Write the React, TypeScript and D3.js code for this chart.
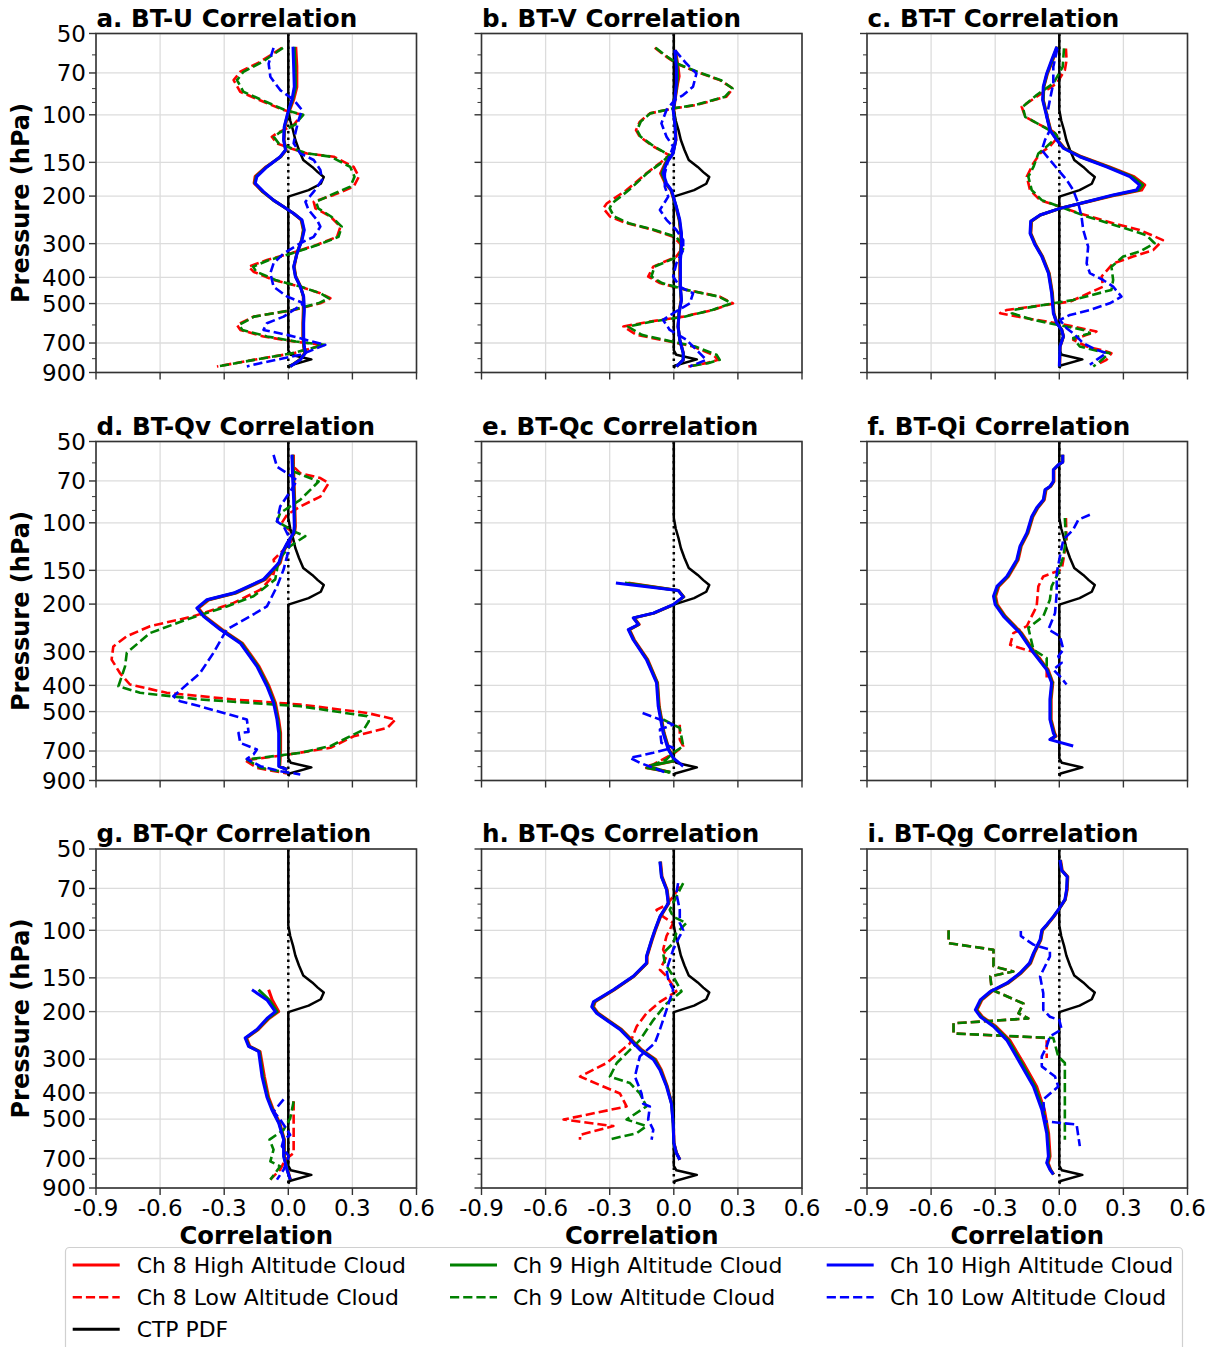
import React from 'react';
import * as d3 from 'd3';

type Pt = [number, number]; // [pressure (hPa), correlation]

// ---------- axis ticks ----------
const xTickValues = [-0.9, -0.6, -0.3, 0, 0.3, 0.6];
const xTickLabels = ['-0.9', '-0.6', '-0.3', '0.0', '0.3', '0.6'];
const pTicks = [50, 70, 100, 150, 200, 300, 400, 500, 700, 900];
const pMinorTicks = [60, 80, 90, 600, 800];

// ---------- CTP PDF (same in every panel) ----------
const ctpPdf: Pt[] = [[50, 0], [96, 0], [105, 0.009], [114, 0.022], [124, 0.033], [135, 0.05], [147, 0.07], [156, 0.112], [163, 0.138], [170, 0.166], [180, 0.152], [190, 0.095], [201, 0], [745, 0], [774, 0.012], [805, 0.108], [848, 0.006], [868, 0]];
const zeroRef: Pt[] = [[50, 0], [870, 0]];

// ---------- a. BT-U ----------
const aH8: Pt[] = [[56, 0.035], [66, 0.04], [79, 0.04], [88, 0.025], [99, 0.0], [111, -0.016], [124, -0.02], [135, -0.01], [143, -0.035], [156, -0.105], [169, -0.155], [179, -0.16], [193, -0.12], [207, -0.07], [219, -0.022], [232, 0.025], [245, 0.06], [267, 0.07], [291, 0.062], [326, 0.04], [365, 0.028], [397, 0.035], [433, 0.058], [471, 0.07], [528, 0.07], [591, 0.068], [662, 0.068], [721, 0.072], [763, 0.076], [808, 0.052], [855, 0.008]];
const aL8: Pt[] = [[56.5, -0.03], [63.6, -0.131], [69.3, -0.225], [74.4, -0.256], [82.2, -0.225], [89.5, -0.116], [96, -0.022], [100, 0.064], [109, 0.025], [117, -0.053], [120.6, -0.077], [127.6, -0.053], [133, 0.009], [139, 0.088], [143, 0.213], [156, 0.306], [169.5, 0.33], [184.5, 0.306], [198, 0.213], [210, 0.119], [222, 0.127], [238, 0.197], [259.5, 0.244], [283, 0.228], [303, 0.134], [326, 0.009], [345, -0.1], [365, -0.186], [381, -0.163], [409, -0.069], [433, 0.056], [458, 0.15], [478, 0.197], [499, 0.15], [528, 0.025], [559, -0.163], [600, -0.24], [626, -0.225], [662, -0.116], [691, 0.025], [711, 0.166], [763, 0.025], [808, -0.163], [855, -0.334]];
const aH9: Pt[] = [[56, 0.028], [66, 0.032], [79, 0.034], [88, 0.02], [99, -0.002], [111, -0.018], [124, -0.021], [135, -0.012], [143, -0.036], [156, -0.102], [169, -0.15], [179, -0.157], [193, -0.118], [207, -0.07], [219, -0.022], [232, 0.025], [245, 0.062], [267, 0.072], [291, 0.063], [326, 0.04], [365, 0.026], [397, 0.034], [433, 0.057], [471, 0.071], [528, 0.073], [591, 0.07], [662, 0.07], [721, 0.073], [763, 0.078], [808, 0.054], [855, 0.008]];
const aL9: Pt[] = [[56.5, -0.025], [63.6, -0.12], [69.3, -0.21], [74.4, -0.24], [82.2, -0.21], [89.5, -0.105], [96, -0.015], [100, 0.07], [109, 0.03], [117, -0.045], [120.6, -0.068], [127.6, -0.045], [133, 0.015], [139, 0.09], [143, 0.2], [156, 0.29], [169.5, 0.31], [184.5, 0.29], [198, 0.2], [210, 0.13], [222, 0.14], [238, 0.2], [259.5, 0.25], [283, 0.235], [303, 0.14], [326, 0.015], [345, -0.09], [365, -0.165], [381, -0.15], [409, -0.06], [433, 0.06], [458, 0.15], [478, 0.19], [499, 0.14], [528, 0.02], [559, -0.16], [600, -0.23], [626, -0.215], [662, -0.1], [691, 0.035], [711, 0.17], [763, 0.02], [808, -0.16], [855, -0.33]];
const aH10: Pt[] = [[56, 0.022], [66.4, 0.025], [78.7, 0.028], [88, 0.017], [98.8, -0.003], [110.7, -0.019], [124, -0.022], [135, -0.013], [143, -0.038], [156, -0.1], [169.5, -0.147], [179.4, -0.155], [192.6, -0.116], [207, -0.069], [219, -0.022], [232, 0.025], [245, 0.064], [267, 0.075], [291, 0.064], [326, 0.041], [365, 0.025], [397, 0.033], [433, 0.056], [471, 0.072], [528, 0.075], [591, 0.072], [662, 0.072], [721, 0.075], [763, 0.08], [808, 0.056], [855, 0.009]];
const aL10: Pt[] = [[56.5, -0.069], [64.6, -0.092], [72.3, -0.084], [81, -0.038], [88, 0.025], [96, 0.064], [104.6, 0.048], [117, 0.033], [127.6, 0.025], [139, 0.056], [147, 0.119], [160, 0.15], [174, 0.158], [192.6, 0.119], [210, 0.08], [225, 0.095], [245, 0.134], [259.5, 0.15], [283, 0.119], [299, 0.056], [326, -0.022], [355, -0.069], [386, -0.084], [433, -0.069], [471, -0.006], [499, 0.072], [559, -0.022], [591, -0.1], [626, -0.116], [653, -0.006], [711, 0.173], [774, 0.056], [831, -0.131], [855, -0.194]];

// ---------- b. BT-V ----------
const bH8: Pt[] = [[57.6, 0.008], [66.4, 0.02], [72, 0.025], [76.5, 0.018], [88, 0.006], [96, 0], [110.7, 0.008], [124, 0.01], [139, -0.005], [151, -0.04], [164.7, -0.062], [179.4, -0.04], [190, -0.014], [219, 0.01], [245, 0.025], [275, 0.033], [308, 0.033], [345, 0.028], [386, 0.028], [433, 0.03], [485, 0.034], [543, 0.024], [608, 0.02], [681, 0.028], [763, 0.045], [808, 0.045], [855, 0.015]];
const bL8: Pt[] = [[56.5, -0.089], [61, -0.034], [64.6, 0.012], [69.3, 0.106], [74.4, 0.215], [79.9, 0.277], [85.7, 0.246], [92, 0.106], [94.7, 0], [98.8, -0.112], [106, -0.159], [114, -0.177], [120.6, -0.159], [131, -0.096], [141, -0.022], [151, -0.065], [164.7, -0.128], [190, -0.221], [213, -0.314], [222, -0.33], [238, -0.299], [252, -0.221], [267, -0.096], [283, -0.003], [308, 0.044], [335, 0.012], [365, -0.096], [397, -0.12], [420, -0.065], [445, 0.059], [471, 0.215], [499, 0.277], [528, 0.184], [559, 0.044], [583, -0.112], [608, -0.236], [653, -0.174], [691, -0.019], [721, 0.09], [774, 0.184], [808, 0.207], [831, 0.152], [855, 0.067]];
const bH9: Pt[] = [[57.6, 0.006], [66.4, 0.016], [72, 0.018], [76.5, 0.015], [88, 0.005], [96, -0.002], [110.7, 0.007], [124, 0.009], [139, -0.004], [151, -0.037], [164.7, -0.056], [179.4, -0.037], [190, -0.012], [219, 0.011], [245, 0.026], [275, 0.034], [308, 0.034], [345, 0.03], [386, 0.03], [433, 0.03], [485, 0.035], [543, 0.024], [608, 0.02], [681, 0.028], [763, 0.044], [808, 0.044], [855, 0.013]];
const bL9: Pt[] = [[56.5, -0.085], [61, -0.03], [64.6, 0.015], [69.3, 0.11], [74.4, 0.22], [79.9, 0.275], [85.7, 0.24], [92, 0.1], [94.7, -0.005], [98.8, -0.11], [106, -0.155], [114, -0.172], [120.6, -0.155], [131, -0.092], [141, -0.02], [151, -0.06], [164.7, -0.125], [190, -0.21], [213, -0.29], [222, -0.3], [238, -0.28], [252, -0.21], [267, -0.09], [283, 0.01], [308, 0.05], [335, 0.02], [365, -0.09], [397, -0.105], [420, -0.055], [445, 0.06], [471, 0.21], [499, 0.27], [528, 0.18], [559, 0.05], [583, -0.1], [608, -0.215], [653, -0.15], [691, -0.01], [721, 0.1], [774, 0.2], [808, 0.215], [831, 0.16], [855, 0.07]];
const bH10: Pt[] = [[57.6, 0.005], [66.4, 0.012], [76.5, 0.012], [88, 0.005], [96, -0.003], [110.7, 0.006], [124, 0.009], [139, -0.003], [151, -0.034], [164.7, -0.05], [179.4, -0.034], [190, -0.011], [219, 0.012], [245, 0.028], [275, 0.036], [308, 0.036], [345, 0.031], [386, 0.031], [433, 0.031], [485, 0.036], [543, 0.025], [608, 0.02], [681, 0.028], [763, 0.044], [808, 0.044], [855, 0.012]];
const bL10: Pt[] = [[57.6, 0.005], [64.6, 0.059], [70.3, 0.106], [78.7, 0.09], [84.5, 0.044], [88, 0.005], [96, -0.034], [107.6, -0.058], [120.6, -0.034], [131, -0.003], [147, -0.026], [164.7, -0.042], [184.5, -0.042], [201, -0.026], [225, -0.065], [245, -0.034], [267, 0.012], [291, 0.044], [317, 0.044], [355, 0.012], [397, -0.003], [433, 0.028], [458, 0.09], [499, 0.075], [543, -0.003], [575, -0.05], [626, -0.019], [681, 0.059], [763, 0.121], [808, 0.152], [855, 0.075]];

// ---------- c. BT-T ----------
const cH8: Pt[] = [[56, -0.008], [62.7, -0.03], [70.3, -0.055], [78.7, -0.072], [88, -0.075], [101.7, -0.056], [114, -0.04], [124, -0.008], [133, 0.025], [143, 0.105], [156, 0.235], [169.5, 0.35], [182, 0.4], [190, 0.385], [198, 0.27], [210, 0.135], [222, 0.005], [235, -0.088], [248, -0.13], [275, -0.133], [303, -0.11], [335, -0.078], [386, -0.047], [458, -0.032], [543, -0.025], [591, -0.01], [626, 0.012], [662, 0.02], [721, 0.004], [855, 0.002]];
const cL8: Pt[] = [[56.8, 0.031], [62.7, 0.034], [68.3, 0.026], [76.5, -0.012], [85.7, -0.106], [93.4, -0.176], [101.7, -0.16], [109, -0.09], [115.5, -0.028], [120.6, -0.005], [131, -0.044], [139, -0.09], [151, -0.121], [169.5, -0.152], [190, -0.137], [207, -0.09], [219, 0.003], [232, 0.096], [252, 0.252], [267, 0.376], [291, 0.485], [317, 0.439], [335, 0.345], [355, 0.252], [397, 0.198], [433, 0.205], [492, 0.05], [528, -0.246], [543, -0.277], [567, -0.152], [591, -0.012], [608, 0.065], [635, 0.174], [653, 0.128], [681, 0.065], [721, 0.128], [752, 0.221], [763, 0.244], [808, 0.221], [843, 0.174]];
const cH9: Pt[] = [[56, -0.01], [62.7, -0.033], [70.3, -0.057], [78.7, -0.073], [88, -0.076], [101.7, -0.057], [114, -0.042], [124, -0.01], [133, 0.022], [143, 0.1], [156, 0.228], [169.5, 0.34], [182, 0.39], [190, 0.372], [198, 0.26], [210, 0.13], [222, 0.004], [235, -0.089], [248, -0.132], [275, -0.135], [303, -0.112], [335, -0.08], [386, -0.049], [458, -0.034], [543, -0.026], [591, -0.011], [626, 0.011], [662, 0.019], [721, 0.003], [855, 0.001]];
const cL9: Pt[] = [[56.8, 0.022], [66.4, 0.016], [76.5, -0.028], [84.5, -0.106], [93.4, -0.171], [101.7, -0.16], [109, -0.09], [117, -0.02], [120.6, -0.009], [131, -0.059], [139, -0.098], [156, -0.121], [169.5, -0.145], [190, -0.129], [207, -0.082], [219, 0.003], [238, 0.128], [259.5, 0.283], [279, 0.407], [299, 0.446], [321, 0.376], [335, 0.299], [365, 0.244], [409, 0.252], [445, 0.244], [485, 0.065], [528, -0.215], [543, -0.222], [575, -0.121], [600, -0.005], [626, 0.112], [644, 0.143], [671, 0.065], [721, 0.096], [752, 0.19], [763, 0.236], [819, 0.19], [855, 0.159]];
const cH10: Pt[] = [[56, -0.012], [62.7, -0.036], [70.3, -0.059], [78.7, -0.075], [88, -0.078], [101.7, -0.059], [114, -0.044], [124, -0.012], [133, 0.019], [143, 0.096], [156, 0.221], [169.5, 0.33], [182, 0.376], [190, 0.361], [198, 0.252], [210, 0.128], [222, 0.003], [235, -0.09], [248, -0.134], [275, -0.137], [303, -0.114], [335, -0.082], [386, -0.051], [458, -0.036], [543, -0.028], [591, -0.012], [626, 0.011], [662, 0.019], [721, 0.003], [855, 0]];
const cL10: Pt[] = [[56.8, -0.009], [66.4, -0.028], [76.5, -0.028], [88, -0.044], [101.7, -0.059], [114, -0.044], [124, -0.067], [135, -0.082], [147, -0.044], [160, -0.005], [174, 0.034], [190, 0.065], [213, 0.089], [238, 0.104], [267, 0.112], [308, 0.135], [355, 0.128], [386, 0.143], [409, 0.205], [433, 0.252], [471, 0.291], [499, 0.236], [528, 0.143], [551, 0.05], [575, 0.003], [617, 0.034], [644, 0.065], [701, 0.112], [742, 0.174], [763, 0.221], [808, 0.174], [843, 0.143]];

// ---------- d. BT-Qv ----------
const dH8: Pt[] = [[56, 0.022], [67.4, 0.026], [82.2, 0.03], [103, 0.033], [109, 0.03], [119, -0.002], [129.5, -0.025], [141, -0.038], [162, -0.106], [182, -0.245], [192.6, -0.37], [207, -0.42], [222, -0.39], [248.5, -0.31], [279, -0.215], [340, -0.137], [403, -0.09], [465, -0.06], [535, -0.045], [600, -0.036], [691, -0.036], [752, -0.038], [797, -0.04], [820, -0.004]];
const dL8: Pt[] = [[56, 0.025], [62, 0.025], [65.5, 0.056], [68.3, 0.15], [71.3, 0.189], [80, 0.15], [87, 0.056], [93.4, -0.006], [100, -0.03], [104.6, -0.006], [109, 0.025], [119, 0.009], [129.5, -0.038], [137, -0.069], [145, -0.061], [158, -0.072], [177, -0.131], [198, -0.256], [222, -0.444], [241.5, -0.647], [263, -0.756], [287, -0.819], [321, -0.827], [360, -0.788], [397, -0.741], [426, -0.569], [451, -0.256], [471, 0.056], [506, 0.369], [535, 0.502], [575, 0.463], [617, 0.306], [681, 0.197], [721, 0.002], [758, -0.202], [808, -0.147], [848, -0.006]];
const dH9: Pt[] = [[56, 0.02], [67.4, 0.023], [82.2, 0.028], [103, 0.03], [109, 0.028], [119, -0.004], [129.5, -0.028], [141, -0.042], [162, -0.112], [182, -0.25], [192.6, -0.376], [207, -0.425], [222, -0.394], [248.5, -0.315], [279, -0.22], [340, -0.142], [403, -0.095], [465, -0.065], [535, -0.049], [600, -0.04], [691, -0.04], [752, -0.041], [797, -0.042], [820, -0.005]];
const dL9: Pt[] = [[56.8, 0.017], [64.6, 0.025], [70.3, 0.142], [75.5, 0.103], [82.2, 0.056], [92, -0.038], [98.8, -0.053], [107.6, 0.025], [112, 0.08], [122, 0.009], [137, -0.045], [162, -0.061], [187, -0.163], [204, -0.288], [228, -0.475], [256, -0.647], [303, -0.756], [340, -0.764], [403, -0.795], [426, -0.694], [451, -0.413], [478, 0.056], [520, 0.369], [543, 0.377], [583, 0.353], [671, 0.197], [711, 0.056], [752, -0.194], [808, -0.131], [843, 0.002]];
const dH10: Pt[] = [[56, 0.017], [67.4, 0.02], [82.2, 0.025], [103, 0.028], [109, 0.025], [119, -0.006], [129.5, -0.03], [141, -0.045], [162, -0.116], [182, -0.256], [192.6, -0.381], [207, -0.428], [222, -0.397], [248.5, -0.319], [279, -0.225], [340, -0.147], [403, -0.1], [465, -0.069], [535, -0.053], [600, -0.045], [691, -0.045], [752, -0.045], [797, -0.045], [820, -0.006]];
const dL10: Pt[] = [[56, -0.069], [62, -0.053], [65.5, -0.006], [69.7, 0.041], [76.5, 0.009], [87, -0.038], [98.8, -0.053], [103, -0.022], [115.5, 0.009], [133, -0.006], [149, -0.022], [172, -0.053], [204, -0.1], [222, -0.178], [248.5, -0.288], [303, -0.35], [360, -0.413], [439, -0.538], [458, -0.506], [478, -0.413], [535, -0.194], [595, -0.186], [600, -0.233], [653, -0.225], [691, -0.147], [721, -0.163], [748, -0.194], [797, -0.131], [831, -0.038], [855, 0.056]];

// ---------- e. BT-Qc ----------
const eH8: Pt[] = [[167, -0.213], [178, 0.022], [188, 0.047], [201, 0.0], [216, -0.092], [225, -0.185], [238, -0.162], [248.5, -0.207], [271, -0.185], [321, -0.122], [391, -0.076], [478, -0.068], [600, -0.045], [691, -0.022], [742, 0.0], [763, 0.0], [790, -0.096], [808, -0.128], [838, -0.019]];
const eL8: Pt[] = [[559, 0.028], [635, 0.028], [671, 0.044], [711, 0.005], [785, -0.096], [797, -0.128], [843, -0.003]];
const eH9: Pt[] = [[167, -0.229], [178, 0.021], [188, 0.046], [201, -0.001], [216, -0.094], [225, -0.188], [238, -0.164], [248.5, -0.21], [271, -0.188], [321, -0.125], [391, -0.078], [478, -0.07], [600, -0.047], [691, -0.024], [742, -0.002], [763, -0.004], [790, -0.1], [808, -0.125], [838, -0.015]];
const eL9: Pt[] = [[535, -0.05], [575, 0.028], [671, 0.044], [711, -0.003], [752, -0.034], [797, -0.112], [843, -0.019]];
const eH10: Pt[] = [[167, -0.271], [178, 0.02], [188, 0.044], [201, -0.003], [216, -0.096], [225, -0.19], [238, -0.166], [248.5, -0.213], [271, -0.19], [321, -0.128], [391, -0.081], [478, -0.073], [600, -0.05], [691, -0.026], [742, -0.003], [797, 0.044]];
const eL10: Pt[] = [[506, -0.146], [535, -0.065], [559, -0.003], [583, -0.065], [653, -0.058], [681, -0.003], [711, -0.096], [742, -0.205], [774, -0.159], [843, -0.034]];

// ---------- f. BT-Qi ----------
const fH8: Pt[] = [[56, 0.016], [59.6, 0.016], [61, -0.003], [63.6, -0.025], [70.3, -0.025], [73.3, -0.04], [75.5, -0.062], [82.2, -0.07], [88, -0.1], [94.7, -0.123], [109, -0.146], [122, -0.178], [137, -0.192], [158, -0.238], [172, -0.283], [187, -0.298], [201, -0.29], [222, -0.252], [256, -0.176], [303, -0.113], [350, -0.052], [391, -0.03], [451, -0.038], [535, -0.038], [600, -0.022], [617, -0.015], [635, -0.042]];
const fL8: Pt[] = [[96, 0.031], [115.5, 0.034], [137, 0.019], [149, 0.011], [158, -0.075], [172, -0.098], [204, -0.106], [228, -0.137], [241.5, -0.152], [256, -0.215], [283, -0.23], [291, -0.184], [303, -0.106], [350, -0.059], [381, -0.059]];
const fH9: Pt[] = [[56, 0.016], [59.6, 0.016], [61, -0.004], [63.6, -0.027], [70.3, -0.027], [73.3, -0.042], [75.5, -0.065], [82.2, -0.073], [88, -0.103], [94.7, -0.126], [109, -0.149], [122, -0.181], [137, -0.196], [158, -0.242], [172, -0.288], [187, -0.303], [201, -0.295], [222, -0.256], [256, -0.18], [303, -0.117], [350, -0.056], [391, -0.033], [451, -0.041], [535, -0.041], [600, -0.025], [617, -0.018], [635, -0.043]];
const fL9: Pt[] = [[96, 0.026], [115.5, 0.031], [133, 0.019], [153.5, -0.005], [172, -0.036], [192.6, -0.044], [222, -0.075], [245, -0.145], [295, -0.121], [317, -0.059], [350, -0.059], [391, -0.028]];
const fH10: Pt[] = [[56, 0.016], [59.6, 0.016], [61, -0.005], [63.6, -0.028], [70.3, -0.028], [73.3, -0.044], [75.5, -0.067], [82.2, -0.075], [88, -0.106], [94.7, -0.129], [109, -0.152], [122, -0.184], [137, -0.199], [158, -0.246], [172, -0.292], [187, -0.308], [201, -0.3], [222, -0.261], [256, -0.184], [303, -0.121], [350, -0.059], [391, -0.036], [451, -0.044], [535, -0.044], [600, -0.028], [617, -0.02], [635, -0.044], [671, 0.065]];
const fL10: Pt[] = [[93.4, 0.143], [97.4, 0.089], [106, 0.065], [115.5, 0.019], [133, 0.003], [153.5, -0.012], [182, -0.012], [216, -0.02], [248.5, -0.051], [263, 0.003], [295, 0.019], [312, -0.005], [330, 0.011], [350, -0.028], [370, 0.003], [397, 0.034]];

// ---------- g. BT-Qr ----------
const gH8: Pt[] = [[166, -0.092], [181, -0.075], [200, -0.045], [212, -0.09], [233, -0.14], [250.5, -0.195], [269, -0.18], [281, -0.132], [348, -0.112], [415, -0.092], [462, -0.07], [517, -0.04], [596, -0.018], [687, -0.018], [770, -0.003], [838, 0.01]];
const gL8: Pt[] = [[430, 0.025], [668, 0.025], [707, -0.014], [770, -0.038], [838, -0.084]];
const gH9: Pt[] = [[166, -0.139], [181, -0.09], [200, -0.052], [212, -0.095], [233, -0.144], [250.5, -0.199], [269, -0.183], [281, -0.136], [348, -0.118], [415, -0.096], [462, -0.074], [517, -0.043], [596, -0.02], [687, -0.02], [770, -0.005], [838, 0.009]];
const gL9: Pt[] = [[430, 0.025], [497, 0.009], [548, -0.022], [596, -0.088], [649, -0.069], [717, -0.084], [748, -0.038], [838, -0.084]];
const gH10: Pt[] = [[166, -0.17], [181, -0.1], [200, -0.061], [212, -0.1], [233, -0.147], [250.5, -0.202], [269, -0.186], [281, -0.139], [348, -0.123], [415, -0.1], [462, -0.077], [517, -0.045], [596, -0.022], [687, -0.022], [770, -0.006], [838, 0.009]];
const gL10: Pt[] = [[423, -0.022], [469, -0.069], [502, -0.038], [548, -0.006], [572, 0.009], [596, -0.022], [630, -0.03], [687, 0.002], [770, -0.022], [838, -0.053]];

// ---------- h. BT-Qs ----------
const hH8: Pt[] = [[55.7, -0.062], [63.3, -0.055], [70.8, -0.031], [79.4, -0.023], [89, -0.062], [100, -0.086], [108.4, -0.101], [125, -0.125], [132.3, -0.125], [148, -0.186], [166, -0.278], [184, -0.368], [192, -0.376], [203, -0.353], [233, -0.244], [277, -0.15], [301, -0.085], [329, -0.058], [379, -0.03], [439, -0.009], [520, -0.002], [613, 0.001], [668, 0.013], [707, 0.029]];
const hL8: Pt[] = [[68.8, 0.028], [75, -0.003], [80.5, -0.034], [84, -0.081], [89, -0.05], [94, -0.003], [105, -0.034], [118, -0.05], [125, -0.034], [140, -0.065], [148, -0.034], [161, -0.003], [168.5, 0.012], [184, -0.065], [203, -0.128], [227, -0.174], [262, -0.205], [310, -0.314], [348, -0.439], [379, -0.33], [402, -0.252], [449, -0.221], [502, -0.516], [531, -0.283], [572, -0.439], [596, -0.439]];
const hH9: Pt[] = [[55.7, -0.064], [63.3, -0.057], [70.8, -0.033], [79.4, -0.025], [89, -0.064], [100, -0.088], [108.4, -0.103], [125, -0.127], [132.3, -0.127], [148, -0.188], [166, -0.281], [184, -0.372], [192, -0.38], [203, -0.357], [233, -0.248], [277, -0.155], [301, -0.09], [329, -0.062], [379, -0.032], [439, -0.01], [520, -0.003], [613, 0.0], [668, 0.012], [707, 0.028]];
const hL9: Pt[] = [[66.9, 0.044], [75, 0.012], [84, -0.019], [89, -0.003], [94, 0.059], [102.5, 0.012], [111.6, -0.003], [121.5, -0.05], [132.3, -0.042], [148, -0.003], [168.5, 0.036], [186.7, -0.034], [215, -0.096], [255, -0.159], [310, -0.267], [348, -0.299], [368, -0.205], [402, -0.159], [449, -0.128], [502, -0.221], [531, -0.128], [564, -0.174], [596, -0.306]];
const hH10: Pt[] = [[55.7, -0.065], [63.3, -0.058], [70.8, -0.034], [79.4, -0.026], [89, -0.065], [100, -0.089], [108.4, -0.104], [125, -0.128], [132.3, -0.128], [148, -0.19], [166, -0.283], [184, -0.376], [192, -0.384], [203, -0.361], [233, -0.252], [277, -0.159], [301, -0.096], [329, -0.065], [379, -0.034], [439, -0.011], [520, -0.003], [613, 0], [668, 0.012], [707, 0.028]];
const hL10: Pt[] = [[66.9, 0.02], [72.9, 0.012], [84, 0.028], [94, 0.028], [100, 0.044], [105, 0.028], [118, -0.003], [140, -0.034], [152, -0.026], [166, -0.003], [181, -0.019], [197, -0.034], [233, -0.065], [262, -0.089], [293, -0.159], [348, -0.182], [402, -0.151], [439, -0.143], [449, -0.112], [502, -0.12], [548, -0.096], [596, -0.104]];

// ---------- i. BT-Qg ----------
const iH8: Pt[] = [[54.9, 0.006], [60, 0.014], [63.3, 0.04], [70.8, 0.037], [77, 0.028], [82.9, 0.002], [89, -0.025], [95.3, -0.055], [100, -0.078], [108.4, -0.086], [121.5, -0.116], [132.3, -0.134], [144, -0.178], [157, -0.24], [168.5, -0.316], [181, -0.362], [197, -0.385], [209, -0.36], [227, -0.296], [255, -0.232], [310, -0.168], [379, -0.106], [462, -0.07], [564, -0.05], [687, -0.043], [727, -0.052], [770, -0.04], [802, -0.026]];
const iL8: Pt[] = [[100, -0.518], [111.6, -0.518], [118, -0.308], [136, -0.308], [142, -0.215], [148, -0.323], [166, -0.316], [186.7, -0.168], [203, -0.191], [212, -0.145], [221, -0.495], [241, -0.495], [250.5, -0.059], [297, -0.059]];
const iH9: Pt[] = [[54.9, 0.004], [60, 0.012], [63.3, 0.038], [70.8, 0.035], [77, 0.027], [82.9, 0.001], [89, -0.027], [95.3, -0.057], [100, -0.08], [108.4, -0.088], [121.5, -0.119], [132.3, -0.137], [144, -0.181], [157, -0.243], [168.5, -0.32], [181, -0.366], [197, -0.389], [209, -0.365], [227, -0.302], [255, -0.239], [310, -0.176], [379, -0.114], [462, -0.076], [564, -0.055], [687, -0.047], [727, -0.056], [770, -0.042], [802, -0.027]];
const iL9: Pt[] = [[100, -0.518], [111.6, -0.518], [118, -0.308], [136, -0.308], [142, -0.215], [148, -0.323], [166, -0.316], [186.7, -0.168], [203, -0.191], [212, -0.145], [221, -0.495], [241, -0.495], [250.5, -0.028], [293, -0.005], [310, 0.026], [596, 0.026]];
const iH10: Pt[] = [[54.9, 0.003], [60, 0.011], [63.3, 0.037], [70.8, 0.034], [77, 0.026], [82.9, 0], [89, -0.028], [95.3, -0.059], [100, -0.082], [108.4, -0.09], [121.5, -0.121], [132.3, -0.14], [144, -0.184], [157, -0.246], [168.5, -0.323], [181, -0.37], [197, -0.393], [209, -0.37], [227, -0.308], [255, -0.246], [310, -0.184], [379, -0.121], [462, -0.082], [564, -0.059], [687, -0.051], [727, -0.059], [770, -0.044], [802, -0.028]];
const iL10: Pt[] = [[100.5, -0.18], [105, -0.18], [113, -0.121], [118, -0.044], [125, -0.044], [148, -0.09], [171, -0.075], [197, -0.075], [209, -0.044], [215, 0], [233, 0.011], [247, -0.044], [269, -0.059], [293, -0.082], [319, -0.082], [348, -0.02], [379, -0.005], [423, -0.075], [510, -0.067], [524, 0.081], [630, 0.096]];

// ---------- panels ----------
const panelTitles = ['a. BT-U Correlation', 'b. BT-V Correlation', 'c. BT-T Correlation', 'd. BT-Qv Correlation', 'e. BT-Qc Correlation', 'f. BT-Qi Correlation', 'g. BT-Qr Correlation', 'h. BT-Qs Correlation', 'i. BT-Qg Correlation'];
const panelSeries: Pt[][][] = [
  [aH8, aL8, aH9, aL9, aH10, aL10],
  [bH8, bL8, bH9, bL9, bH10, bL10],
  [cH8, cL8, cH9, cL9, cH10, cL10],
  [dH8, dL8, dH9, dL9, dH10, dL10],
  [eH8, eL8, eH9, eL9, eH10, eL10],
  [fH8, fL8, fH9, fL9, fH10, fL10],
  [gH8, gL8, gH9, gL9, gH10, gL10],
  [hH8, hL8, hH9, hL9, hH10, hL10],
  [iH8, iL8, iH9, iL9, iH10, iL10],
];
const seriesColors = ['#ff0000', '#ff0000', '#008000', '#008000', '#0000ff', '#0000ff'];
const seriesDashed = [false, true, false, true, false, true];

const legendLabels = ['Ch 8 High Altitude Cloud', 'Ch 8 Low Altitude Cloud', 'CTP PDF', 'Ch 9 High Altitude Cloud', 'Ch 9 Low Altitude Cloud', 'Ch 10 High Altitude Cloud', 'Ch 10 Low Altitude Cloud'];
const legendColors = ['#ff0000', '#ff0000', '#000000', '#008000', '#008000', '#0000ff', '#0000ff'];
const legendDashed = [false, true, false, false, true, false, true];

// ---------- layout ----------
const FONT = "'DejaVu Sans', Verdana, sans-serif";
const COL_X = [96, 481.5, 867];
const ROW_Y = [33.5, 441.5, 849];
const PW = 320.5;
const PH = 339;
const DASH = '9.2,4';

function Panel({ idx }: { idx: number }) {
  const col = idx % 3;
  const row = Math.floor(idx / 3);
  const x0 = COL_X[col];
  const top = ROW_Y[row];
  const xs = d3.scaleLinear().domain([-0.9, 0.6]).range([x0, x0 + PW]);
  const ys = d3.scaleLog().domain([50, 900]).range([top, top + PH]);
  const line = d3.line<Pt>().x((d) => xs(d[1])).y((d) => ys(d[0]));
  const series = panelSeries[idx];
  const bottom = top + PH;

  const renderSeries = (k: number) => (
    <path key={'s' + k} d={line(series[k]) || ''} fill="none" stroke={seriesColors[k]}
      strokeWidth={seriesDashed[k] ? 2.6 : 3} strokeDasharray={seriesDashed[k] ? DASH : undefined}
      strokeLinejoin="round" />
  );

  return (
    <g>
      <rect x={x0} y={top} width={PW} height={PH} fill="#fff" />
      {xTickValues.map((v) => (
        <line key={'gx' + v} x1={xs(v)} x2={xs(v)} y1={top} y2={bottom} stroke="#dcdcdc" strokeWidth={1.3} />
      ))}
      {pTicks.map((p) => (
        <line key={'gy' + p} x1={x0} x2={x0 + PW} y1={ys(p)} y2={ys(p)} stroke="#dcdcdc" strokeWidth={1.3} />
      ))}
      {renderSeries(0)}
      {renderSeries(1)}
      <path d={line(zeroRef) || ''} fill="none" stroke="#000" strokeWidth={2.5} strokeDasharray="2.5,4" />
      <path d={line(ctpPdf) || ''} fill="none" stroke="#000" strokeWidth={2.5} strokeLinejoin="round" />
      {renderSeries(2)}
      {renderSeries(3)}
      {renderSeries(4)}
      {renderSeries(5)}
      <rect x={x0} y={top} width={PW} height={PH} fill="none" stroke="#333" strokeWidth={1.6} />
      {pTicks.map((p) => (
        <line key={'ty' + p} x1={x0 - 7} x2={x0} y1={ys(p)} y2={ys(p)} stroke="#333" strokeWidth={1.4} />
      ))}
      {pMinorTicks.map((p) => (
        <line key={'tm' + p} x1={x0 - 4} x2={x0} y1={ys(p)} y2={ys(p)} stroke="#333" strokeWidth={1} />
      ))}
      {xTickValues.map((v) => (
        <line key={'tx' + v} x1={xs(v)} x2={xs(v)} y1={bottom} y2={bottom + 7} stroke="#333" strokeWidth={1.4} />
      ))}
      {col === 0 && pTicks.map((p) => (
        <text key={'ly' + p} x={x0 - 10} y={ys(p)} dy="0.36em" textAnchor="end" fontSize={23} fill="#000">{p}</text>
      ))}
      {col === 0 && (
        <text transform={`translate(29,${top + PH / 2}) rotate(-90)`} textAnchor="middle" fontSize={24} fontWeight="bold" fill="#000">Pressure (hPa)</text>
      )}
      {row === 2 && xTickValues.map((v, i) => (
        <text key={'lx' + v} x={xs(v)} y={bottom + 28} textAnchor="middle" fontSize={23} fill="#000">{xTickLabels[i]}</text>
      ))}
      {row === 2 && (
        <text x={x0 + PW / 2} y={bottom + 56} textAnchor="middle" fontSize={24.3} fontWeight="bold" fill="#000">Correlation</text>
      )}
      <text x={x0 + 0.5} y={top - 7} fontSize={24.6} fontWeight="bold" fill="#000">{panelTitles[idx]}</text>
    </g>
  );
}

function Legend() {
  const colLineX = [72.7, 450, 826.7];
  const colTextX = [136.7, 513, 890];
  const rowY = [1265, 1297.3, 1329.3];
  const colOf = [0, 0, 0, 1, 1, 2, 2];
  const rowOf = [0, 1, 2, 0, 1, 0, 1];
  return (
    <g>
      <rect x={65.5} y={1247.5} width={1117} height={120} rx={4} fill="#fff" stroke="#d0d0d0" strokeWidth={1.2} />
      {legendLabels.map((lab, i) => {
        const lx = colLineX[colOf[i]];
        const y = rowY[rowOf[i]];
        return (
          <g key={lab}>
            <line x1={lx} x2={lx + 47} y1={y} y2={y} stroke={legendColors[i]} strokeWidth={legendDashed[i] ? 2.6 : 3}
              strokeDasharray={legendDashed[i] ? DASH : undefined} />
            <text x={colTextX[colOf[i]]} y={y} dy="0.36em" fontSize={21.9} fill="#000">{lab}</text>
          </g>
        );
      })}
    </g>
  );
}

export default function App() {
  return (
    <svg width={1214} height={1347} style={{ position: 'absolute', left: 0, top: 0, background: '#fff' }} fontFamily={FONT}>
      <rect x={0} y={0} width={1214} height={1347} fill="#fff" />
      {panelTitles.map((_, i) => <Panel key={i} idx={i} />)}
      <Legend />
    </svg>
  );
}
